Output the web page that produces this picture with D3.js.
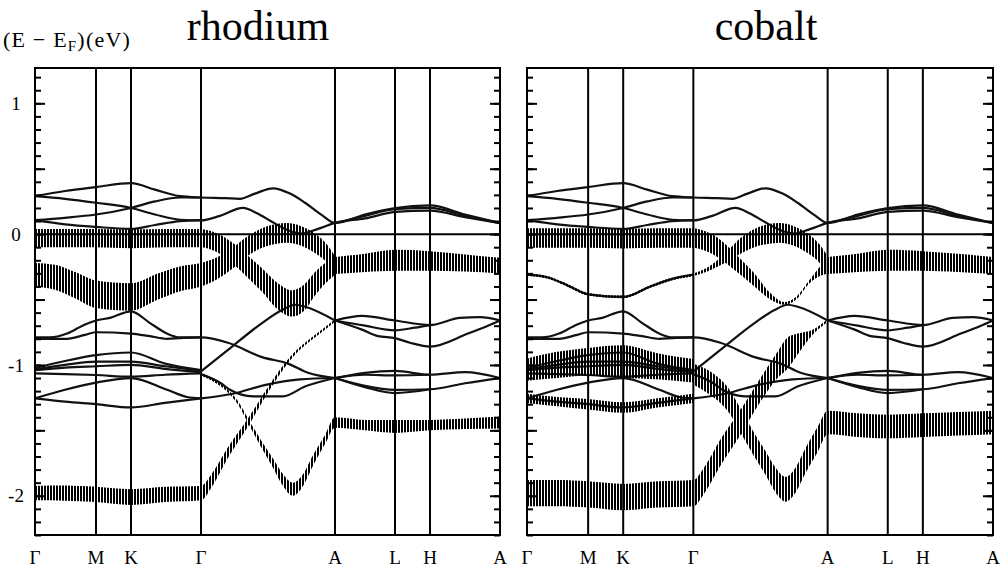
<!DOCTYPE html>
<html>
<head>
<meta charset="utf-8">
<script src="https://cdn.jsdelivr.net/npm/d3@7"></script>
<style>
  body { margin: 0; background: #fff; }
  svg { display: block; font-family: "Liberation Serif", "DejaVu Serif", serif; }
</style>
</head>
<body>
<svg id="chart" width="1001" height="569"></svg>
<script>
// k path (high symmetry points) and energy labels
const kLabels = ['Γ', 'M', 'K', 'Γ', 'A', 'L', 'H', 'A'];
const kPoints = [0, 61, 96, 166, 300, 360, 395, 465];
const yLabels = [-2, -1, 0, 1];
const panelTitles = ['rhodium', 'cobalt'];

// thin bands, [k, E - EF] (same in both panels)
const bandT1 = [[0,0.29],[30,0.33],[61,0.36],[96,0.39],[120,0.34],[145,0.29],[166,0.28],[190,0.275],[205,0.27],[220,0.31],[238,0.35],[255,0.31],[270,0.24],[287,0.145],[300,0.085],[330,0.15],[360,0.2],[395,0.22],[430,0.15],[465,0.085]];
const bandT2 = [[0,0.29],[30,0.27],[61,0.24],[96,0.2],[120,0.15],[145,0.11],[166,0.105],[185,0.14],[208,0.2],[222,0.16],[237,0.094],[257,0.018],[267,0.005],[283,0.04],[300,0.086],[330,0.12],[360,0.17],[395,0.18],[430,0.13],[465,0.085]];
const bandT3 = [[0,0.107],[30,0.125],[61,0.15],[96,0.2],[120,0.25],[145,0.28],[166,0.28]];
const bandT3b = [[300,0.085],[330,0.14],[360,0.19],[395,0.2],[430,0.14],[465,0.085]];
const bandT4 = [[0,0.107],[30,0.075],[61,0.055],[96,0.04],[120,0.07],[145,0.1],[166,0.107]];

const bandA = [[0,-0.79],[15,-0.79],[32,-0.76],[50,-0.69],[61,-0.66],[75,-0.64],[96,-0.59],[115,-0.68],[132,-0.76],[145,-0.79],[166,-0.79],[193,-0.83],[227,-0.94],[253,-0.99],[273,-1.06],[300,-1.1]];
const bandB = [[0,-0.8],[32,-0.8],[50,-0.77],[61,-0.75],[96,-0.76],[115,-0.78],[132,-0.8],[145,-0.795],[166,-0.79]];
const bandC = [[0,-1.025],[30,-0.97],[61,-0.925],[96,-0.905],[130,-0.99],[166,-1.04]];
const bandD = [[0,-1.035],[30,-1.0],[61,-0.975],[96,-0.975],[130,-1.01],[166,-1.045]];
const bandE = [[0,-1.04],[30,-1.02],[61,-1.01],[96,-1.0],[130,-1.03],[166,-1.055]];
const bandF = [[0,-1.065],[30,-1.07],[61,-1.077],[96,-1.09],[130,-1.075],[166,-1.065]];
const bandG = [[0,-1.255],[30,-1.19],[61,-1.135],[96,-1.1],[132,-1.19],[152,-1.245],[166,-1.255]];
const bandH = [[0,-1.255],[30,-1.28],[61,-1.3],[96,-1.325],[130,-1.29],[166,-1.255]];
const band5 = [[166,-1.05],[193,-0.885],[227,-0.68],[247,-0.58],[260,-0.54],[270,-0.555],[300,-0.66]];
const band7 = [[166,-1.07],[186,-1.14],[195,-1.19],[218,-1.24],[248,-1.24],[270,-1.165],[300,-1.1]];
const band8 = [[166,-1.255],[198,-1.22],[232,-1.15],[265,-1.11],[300,-1.1]];
const bandU1 = [[300,-0.66],[327,-0.625],[360,-0.66],[395,-0.695],[425,-0.64],[445,-0.635],[465,-0.66]];
const bandU2 = [[300,-0.66],[330,-0.7],[360,-0.735],[380,-0.715],[395,-0.695]];
const bandU3 = [[300,-0.66],[327,-0.73],[343,-0.78],[360,-0.795],[375,-0.83],[395,-0.86],[433,-0.76],[453,-0.7],[465,-0.66]];
const bandL1 = [[300,-1.1],[330,-1.06],[360,-1.045],[395,-1.075],[430,-1.055],[465,-1.1]];
const bandL2 = [[300,-1.1],[330,-1.075],[360,-1.08],[395,-1.075]];
const bandL3 = [[300,-1.1],[330,-1.16],[360,-1.19],[395,-1.186],[430,-1.14],[465,-1.1]];
const bandL4 = [[300,-1.1],[330,-1.17],[360,-1.215],[395,-1.186]];

const thinBands = [bandT1, bandT2, bandT3, bandT3b, bandT4, bandA, bandB, bandC, bandD, bandE, bandF,
    bandG, bandH, band5, band7, band8, bandU1, bandU2, bandU3, bandL1, bandL2, bandL3, bandL4];

// fat bands: path [k, E] and the weight (half height of the bars, eV) for each metal
// a weight of 0 means the band is drawn as a plain line there
const fatF1 = [[0,-0.03],[30,-0.03],[61,-0.03],[96,-0.035],[130,-0.03],[166,-0.03],[175,-0.045],[190,-0.1],[200,-0.16],[213,-0.25],[227,-0.35],[242,-0.47],[257,-0.53],[270,-0.48],[280,-0.38],[290,-0.3],[300,-0.24]];
const rhWeightF1 = [0.07,0.07,0.07,0.072,0.07,0.07,0.07,0.075,0.08,0.085,0.09,0.1,0.1,0.1,0.09,0.08,0.07];
const coWeightF1 = [0.075,0.075,0.075,0.075,0.075,0.075,0.075,0.075,0.07,0.06,0.05,0.025,0.006,0.006,0.01,0.03,0.06];

const fatF2 = [[0,-0.31],[20,-0.33],[40,-0.39],[61,-0.46],[96,-0.48],[123,-0.4],[146,-0.34],[166,-0.31],[180,-0.27],[200,-0.17],[213,-0.09],[227,-0.03],[240,0.0],[252,0.01],[265,-0.01],[280,-0.07],[292,-0.15],[300,-0.24]];
const rhWeightF2 = [0.09,0.095,0.1,0.105,0.105,0.1,0.095,0.09,0.085,0.08,0.075,0.075,0.075,0.075,0.075,0.075,0.07,0.07];
const coWeightF2 = [0,0,0,0,0,0,0,0,0.015,0.04,0.06,0.07,0.075,0.075,0.075,0.075,0.07,0.07];

const fatF3 = [[0,-1.98],[30,-1.98],[61,-1.99],[96,-2.01],[130,-1.99],[166,-1.98],[177,-1.88],[193,-1.67],[213,-1.44],[233,-1.19],[250,-1.0],[260,-0.91],[270,-0.84],[285,-0.75],[300,-0.66]];
const rhWeightF3 = [0.055,0.058,0.058,0.06,0.058,0.055,0.05,0.04,0.03,0.02,0.015,0.012,0.01,0.008,0.006];
const coWeightF3 = [0.1,0.1,0.1,0.1,0.1,0.1,0.1,0.1,0.095,0.09,0.1,0.12,0.08,0.02,0.006];

const fatF4 = [[166,-1.07],[181,-1.13],[193,-1.2],[203,-1.29],[214,-1.44],[226,-1.6],[238,-1.75],[248,-1.88],[258,-1.95],[268,-1.88],[278,-1.73],[290,-1.57],[300,-1.44],[330,-1.46],[360,-1.47],[395,-1.46],[430,-1.45],[465,-1.44]];
const rhWeightF4 = [0.005,0.007,0.01,0.013,0.018,0.025,0.035,0.045,0.05,0.045,0.04,0.035,0.04,0.04,0.05,0.04,0.04,0.045];
const coWeightF4 = [0.08,0.09,0.09,0.09,0.09,0.09,0.09,0.095,0.095,0.095,0.095,0.095,0.09,0.09,0.09,0.09,0.09,0.09];

const fatF5 = [[300,-0.24],[330,-0.22],[360,-0.2],[395,-0.205],[430,-0.22],[465,-0.24]];
const rhWeightF5 = [0.065,0.07,0.08,0.075,0.065,0.06];
const coWeightF5 = [0.065,0.07,0.08,0.075,0.07,0.065];

// cobalt only: heavy d bands around -1 eV
const coWeightD = [0.085,0.1,0.105,0.125,0.1,0.09];
const coWeightH = [0.035,0.035,0.04,0.04,0.035,0.035];

const rhFat = [[fatF1, rhWeightF1], [fatF2, rhWeightF2], [fatF3, rhWeightF3], [fatF4, rhWeightF4], [fatF5, rhWeightF5]];
const coFat = [[fatF1, coWeightF1], [fatF2, coWeightF2], [fatF3, coWeightF3], [fatF4, coWeightF4], [fatF5, coWeightF5],
    [bandD, coWeightD], [bandH, coWeightH]];

const panels = [
    {title: panelTitles[0], left: 35, width: 465, titleX: 258, fat: rhFat, yLabels: true},
    {title: panelTitles[1], left: 527, width: 466, titleX: 766, fat: coFat, yLabels: false}
];
const marginTop = 68, h = 467;

const svg = d3.select('#chart');

// vertical bars for the fat bands
svg.append('defs').append('pattern')
    .attr('id', 'bars')
    .attr('patternUnits', 'userSpaceOnUse')
    .attr('width', 3).attr('height', 20)
    .append('rect')
    .attr('width', 2).attr('height', 20)
    .attr('shape-rendering', 'crispEdges')
    .attr('fill', '#000');

const y = d3.scaleLinear().domain([-2.3, 1.27]).range([h, 0]);

panels.forEach((p, pi) => {
    const x = d3.scaleLinear().domain([0, 465]).range([0, p.width]);
    const g = svg.append('g').attr('transform', `translate(${p.left},${marginTop})`);

    g.append('clipPath').attr('id', 'clip' + pi)
        .append('rect').attr('width', p.width).attr('height', h);

    // high symmetry lines and the Fermi level
    g.selectAll('.sym')
        .data(kPoints.slice(1, -1))
        .enter()
        .append('line')
        .attr('x1', d => x(d)).attr('x2', d => x(d))
        .attr('y1', 0).attr('y2', h)
        .attr('stroke', '#000').attr('stroke-width', 2);

    g.append('line')
        .attr('x1', 0).attr('x2', p.width)
        .attr('y1', y(0)).attr('y2', y(0))
        .attr('stroke', '#000').attr('stroke-width', 2);

    const bands = g.append('g').attr('clip-path', `url(#clip${pi})`);

    const line = d3.line()
        .x(d => x(d[0]))
        .y(d => y(d[1]))
        .curve(d3.curveMonotoneX);

    bands.selectAll('.band')
        .data(thinBands)
        .enter()
        .append('path')
        .attr('d', line)
        .attr('fill', 'none')
        .attr('stroke', '#111')
        .attr('stroke-width', 2.2);

    const fatData = p.fat.map(([path, w]) => path.map((d, i) => ({k: d[0], e: d[1], w: w[i]})));

    // parts of a fat band that carry no weight are plain lines
    const thinPart = d3.line()
        .defined(d => d.w === 0)
        .x(d => x(d.k))
        .y(d => y(d.e))
        .curve(d3.curveMonotoneX);

    bands.selectAll('.thinpart')
        .data(fatData)
        .enter()
        .append('path')
        .attr('d', thinPart)
        .attr('fill', 'none')
        .attr('stroke', '#111')
        .attr('stroke-width', 2.2);

    const halfH = w => Math.max(1.3, y(0) - y(w));
    const area = d3.area()
        .x(d => x(d.k))
        .y0(d => y(d.e) + halfH(d.w))
        .y1(d => y(d.e) - halfH(d.w))
        .curve(d3.curveMonotoneX);

    bands.selectAll('.fat')
        .data(fatData)
        .enter()
        .append('path')
        .attr('d', area)
        .attr('fill', 'url(#bars)');

    // inner ticks on both sides
    const minor = y.ticks(36);
    const major = minor.filter(d => Math.abs(d * 2 - Math.round(d * 2)) < 1e-6);
    [[d3.axisLeft, 0], [d3.axisRight, p.width]].forEach(([axis, pos]) => {
        g.append('g')
            .attr('transform', `translate(${pos},0)`)
            .call(axis(y).tickValues(minor).tickSize(-6).tickFormat(''))
            .call(a => a.select('.domain').remove());
        g.append('g')
            .attr('transform', `translate(${pos},0)`)
            .call(axis(y).tickValues(major).tickSize(-10).tickFormat(''))
            .call(a => a.select('.domain').remove());
    });
    g.selectAll('.tick line').attr('stroke', '#000').attr('stroke-width', 2);

    if (p.yLabels) {
        g.selectAll('.ylab')
            .data(yLabels)
            .enter()
            .append('text')
            .attr('x', -19)
            .attr('y', d => y(d))
            .attr('dy', '0.35em')
            .attr('text-anchor', 'middle')
            .attr('font-size', 19)
            .text(d => String(d));
    }

    // frame
    g.append('rect')
        .attr('width', p.width).attr('height', h)
        .attr('fill', 'none')
        .attr('stroke', '#000').attr('stroke-width', 2);

    g.selectAll('.klab')
        .data(kPoints)
        .enter()
        .append('text')
        .attr('x', d => x(d))
        .attr('y', h + 29)
        .attr('text-anchor', 'middle')
        .attr('font-size', 19)
        .text((d, i) => kLabels[i]);

    svg.append('text')
        .attr('x', p.titleX)
        .attr('y', 40)
        .attr('text-anchor', 'middle')
        .attr('font-size', 42)
        .text(p.title);
});

const ylab = svg.append('text')
    .attr('x', 3)
    .attr('y', 47)
    .attr('font-size', 22)
    .attr('letter-spacing', 1.2);
ylab.append('tspan').text('(E − E');
ylab.append('tspan').attr('font-size', 15).attr('dy', 4).text('F');
ylab.append('tspan').attr('dy', -4).text(')(eV)');
</script>
</body>
</html>
